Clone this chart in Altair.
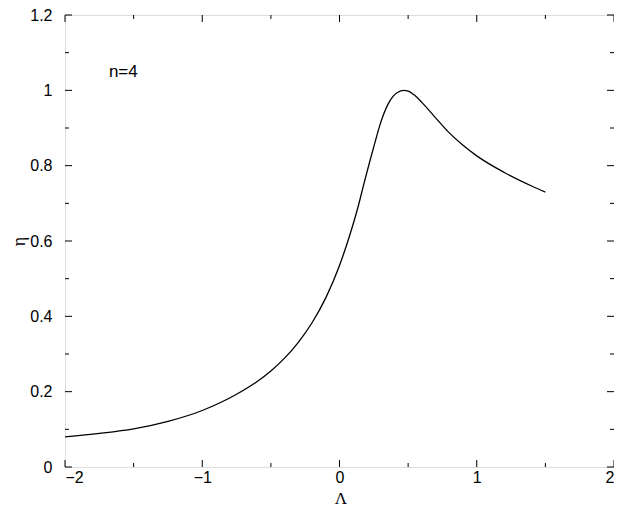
import altair as alt
import pandas as pd

# curve values
lam = [-2.0, -1.75, -1.5, -1.25, -1.0, -0.75, -0.6, -0.5, -0.4, -0.3, -0.2, -0.1,
       0.0, 0.07, 0.134, 0.18, 0.219, 0.255, 0.292, 0.32, 0.352, 0.39, 0.425, 0.468,
       0.5, 0.55, 0.6, 0.7, 0.8, 0.9, 1.0, 1.2, 1.4, 1.5]
eta = [0.080, 0.089, 0.101, 0.121, 0.150, 0.193, 0.227, 0.255, 0.289, 0.331, 0.383, 0.449,
       0.535, 0.610, 0.689, 0.755, 0.809, 0.857, 0.905, 0.935, 0.962, 0.984, 0.995, 1.000,
       0.998, 0.986, 0.968, 0.927, 0.887, 0.854, 0.826, 0.782, 0.746, 0.730]

x_major = [-2, -1, 0, 1, 2]
x_minor = [-1.5, -0.5, 0.5, 1.5]
y_major = [0, 0.2, 0.4, 0.6, 0.8, 1.0, 1.2]
y_minor = [0.1, 0.3, 0.5, 0.7, 0.9, 1.1]

annot_text = ["n=4"]
annot_x = [-1.68]
annot_y = [1.035]

W, H = 549, 452
MAJ, MIN = 7, 4
FONT = "Liberation Sans"

xs = alt.Scale(domain=[-2, 2], nice=False, zero=False)
ys = alt.Scale(domain=[0, 1.2], nice=False, zero=False)

df = pd.DataFrame({"lam": lam, "eta": eta})

line = alt.Chart(df).mark_line(color="black", strokeWidth=1.3, interpolate="monotone").encode(
    x=alt.X("lam:Q", scale=xs,
            axis=alt.Axis(values=x_major, format="~g", ticks=False, domain=False, grid=False,
                          labelFont=FONT, labelFontSize=16, labelColor="black", labelPadding=2,
                          title="Λ", titleFont="Liberation Serif", titleFontSize=17,
                          titleFontWeight="normal", titleColor="black",
                          titleX=W / 2 + 1, titleY=36, titleBaseline="alphabetic")),
    y=alt.Y("eta:Q", scale=ys,
            axis=alt.Axis(values=y_major, format="~g", ticks=False, domain=False, grid=False,
                          labelFont=FONT, labelFontSize=16, labelColor="black", labelPadding=13,
                          title="η", titleFont="Liberation Serif", titleFontSize=18,
                          titleFontWeight="normal", titleColor="black",
                          titleX=-46, titleY=226, titleAngle=-90,
                          titleAlign="center", titleBaseline="middle")),
)


def xticks(vals, length):
    d = pd.DataFrame({"v": vals})
    bot = alt.Chart(d).mark_rule(color="black", strokeWidth=1).encode(
        x=alt.X("v:Q", scale=xs), y=alt.value(H), y2=alt.value(H - length))
    top = alt.Chart(d).mark_rule(color="black", strokeWidth=1).encode(
        x=alt.X("v:Q", scale=xs), y=alt.value(0), y2=alt.value(length))
    return [bot, top]


def yticks(vals, length):
    d = pd.DataFrame({"v": vals})
    left = alt.Chart(d).mark_rule(color="black", strokeWidth=1).encode(
        y=alt.Y("v:Q", scale=ys), x=alt.value(0), x2=alt.value(length))
    right = alt.Chart(d).mark_rule(color="black", strokeWidth=1).encode(
        y=alt.Y("v:Q", scale=ys), x=alt.value(W), x2=alt.value(W - length))
    return [left, right]


adf = pd.DataFrame({"t": annot_text, "x": annot_x, "y": annot_y})
annot = alt.Chart(adf).mark_text(align="left", baseline="alphabetic", font=FONT,
                                 fontSize=17, color="black").encode(
    x=alt.X("x:Q", scale=xs), y=alt.Y("y:Q", scale=ys), text="t:N")

layers = [line, annot] + xticks(x_major, MAJ) + xticks(x_minor, MIN) + yticks(y_major, MAJ) + yticks(y_minor, MIN)

chart = alt.layer(*layers).properties(
    width=W, height=H,
    autosize=alt.AutoSizeParams(type="none"),
    padding={"left": 57, "top": 7, "right": 0, "bottom": 42},
).configure_view(stroke="black", strokeWidth=1).configure(background="white")

chart.save("out.html", embed_options={"renderer": "svg", "actions": False})
